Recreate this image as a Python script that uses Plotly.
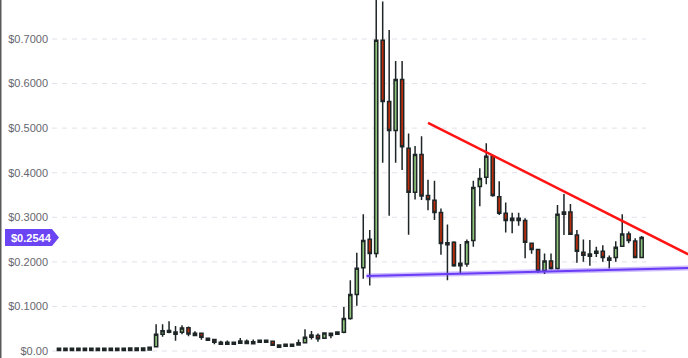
import plotly.graph_objects as go

# ---- data ----
idx = list(range(91))
opens = [0.0060, 0.0060, 0.0010, 0.0060, 0.0010, 0.0060, 0.0060, 0.0060, 0.0060, 0.0010, 0.0010, 0.0012, 0.0012, 0.0012, 0.0020,
         0.0096, 0.0375, 0.0460, 0.0375, 0.0420, 0.0520, 0.0350, 0.0397, 0.0284, 0.0260, 0.0150, 0.0195, 0.0150, 0.0172, 0.0220,
         0.0165, 0.0195, 0.0240, 0.0217, 0.0135, 0.0105, 0.0105, 0.0135, 0.0187, 0.0310, 0.0350, 0.0284, 0.0400, 0.0375, 0.0420,
         0.0730, 0.1270, 0.1870, 0.2506, 0.2190, 0.6970, 0.5600, 0.4950, 0.6090, 0.4550, 0.3560, 0.4410, 0.3490, 0.3380, 0.3110,
         0.2385, 0.2440, 0.1910, 0.1950, 0.2480, 0.3690, 0.3900, 0.4370, 0.3460, 0.3090, 0.2930, 0.2980, 0.2930, 0.2416, 0.2280,
         0.1800, 0.2020, 0.1850, 0.3070, 0.3120, 0.2600, 0.2215, 0.2125, 0.2192, 0.2237, 0.2087, 0.2100, 0.2350, 0.2625, 0.2468,
         0.2100]
highs = [0.0070, 0.0070, 0.0070, 0.0070, 0.0070, 0.0070, 0.0070, 0.0070, 0.0070, 0.0070, 0.0070, 0.0075, 0.0075, 0.0075, 0.0095,
         0.0600, 0.0600, 0.0670, 0.0560, 0.0580, 0.0550, 0.0445, 0.0410, 0.0290, 0.0270, 0.0230, 0.0235, 0.0200, 0.0290, 0.0260,
         0.0260, 0.0250, 0.0250, 0.0220, 0.0140, 0.0155, 0.0155, 0.0260, 0.0490, 0.0450, 0.0390, 0.0410, 0.0410, 0.0440, 0.0990,
         0.1590, 0.2206, 0.3070, 0.2715, 0.7900, 0.7840, 0.7200, 0.6507, 0.6507, 0.4880, 0.4600, 0.4820, 0.3840, 0.3820, 0.3200,
         0.2840, 0.2460, 0.2400, 0.2500, 0.3820, 0.4100, 0.4660, 0.4400, 0.3810, 0.3330, 0.3100, 0.3100, 0.2980, 0.2435, 0.2280,
         0.2190, 0.2190, 0.3275, 0.3520, 0.3300, 0.2715, 0.2500, 0.2490, 0.2340, 0.2370, 0.2140, 0.2460, 0.3070, 0.2680, 0.2530,
         0.2580]
lows = [0.0005, 0.0005, 0.0005, 0.0005, 0.0005, 0.0005, 0.0005, 0.0005, 0.0005, 0.0005, 0.0005, 0.0008, 0.0008, 0.0008, 0.0015,
        0.0080, 0.0320, 0.0400, 0.0230, 0.0375, 0.0330, 0.0340, 0.0254, 0.0230, 0.0150, 0.0150, 0.0145, 0.0150, 0.0170, 0.0160,
        0.0160, 0.0190, 0.0190, 0.0125, 0.0080, 0.0100, 0.0100, 0.0130, 0.0180, 0.0260, 0.0210, 0.0280, 0.0285, 0.0370, 0.0400,
        0.0700, 0.1016, 0.1620, 0.1470, 0.2100, 0.4225, 0.3036, 0.4225, 0.4060, 0.2610, 0.3400, 0.3390, 0.3160, 0.2940, 0.2160,
        0.1590, 0.1890, 0.1740, 0.1890, 0.2340, 0.3250, 0.3740, 0.3460, 0.3050, 0.2660, 0.2640, 0.2810, 0.2080, 0.2180, 0.1750,
        0.1730, 0.1830, 0.1830, 0.2600, 0.2600, 0.1980, 0.2000, 0.1910, 0.2110, 0.2000, 0.1850, 0.2000, 0.2350, 0.2416, 0.2100,
        0.2100]
closes = [0.0010, 0.0010, 0.0060, 0.0010, 0.0060, 0.0010, 0.0010, 0.0010, 0.0010, 0.0060, 0.0060, 0.0065, 0.0065, 0.0065, 0.0085,
          0.0375, 0.0455, 0.0420, 0.0426, 0.0516, 0.0380, 0.0400, 0.0310, 0.0240, 0.0195, 0.0195, 0.0150, 0.0195, 0.0224, 0.0170,
          0.0210, 0.0240, 0.0195, 0.0128, 0.0083, 0.0150, 0.0150, 0.0187, 0.0310, 0.0360, 0.0276, 0.0404, 0.0350, 0.0426, 0.0730,
          0.1270, 0.1855, 0.2480, 0.2190, 0.6970, 0.5600, 0.4950, 0.6090, 0.4580, 0.3560, 0.4410, 0.3480, 0.3400, 0.3110, 0.2410,
          0.2430, 0.1910, 0.1970, 0.2450, 0.3670, 0.3870, 0.4370, 0.3490, 0.3090, 0.2930, 0.2980, 0.2930, 0.2440, 0.2280, 0.1800,
          0.2020, 0.1850, 0.3070, 0.3120, 0.2620, 0.2237, 0.2147, 0.2176, 0.2237, 0.2100, 0.2035, 0.2327, 0.2625, 0.2480, 0.2100,
          0.2544]

resistance_x = [57.0, 97.2]
resistance_y = [0.512, 0.217]
support_x = [47.5, 97.2]
support_y = [0.168, 0.186]

tick_vals = [0.0, 0.1, 0.2, 0.3, 0.4, 0.5, 0.6, 0.7]
tick_text = ["$0.00", "$0.1000", "$0.2000", "$0.3000", "$0.4000", "$0.5000", "$0.6000", "$0.7000"]
last_price = 0.2544
last_label = "$0.2544"

# ---- figure ----
fig = go.Figure()
fig.add_trace(go.Candlestick(
    x=idx, open=opens, high=highs, low=lows, close=closes,
    increasing=dict(fillcolor="#8fc57b", line=dict(color="#1e2526", width=1.5)),
    decreasing=dict(fillcolor="#bd2d0c", line=dict(color="#1e2526", width=1.5)),
    whiskerwidth=0, showlegend=False, hoverinfo="skip",
))
fig.add_trace(go.Scatter(x=resistance_x, y=resistance_y, mode="lines",
                         line=dict(color="#ff1414", width=2.5), showlegend=False, hoverinfo="skip"))
fig.add_trace(go.Scatter(x=support_x, y=support_y, mode="lines",
                         line=dict(color="rgba(112,64,245,0.35)", width=5), showlegend=False, hoverinfo="skip"))
fig.add_trace(go.Scatter(x=support_x, y=support_y, mode="lines",
                         line=dict(color="#6a3cf5", width=2), showlegend=False, hoverinfo="skip"))

L, R = 52, 688
grid_end = (646 - L) / (R - L)
shapes = []
for v in tick_vals:
    shapes.append(dict(type="line", xref="paper", yref="y", x0=0, x1=grid_end, y0=v, y1=v,
                       line=dict(color="#e1e1ea", width=1, dash="5px,5px"), layer="below"))
# left frame line
shapes.append(dict(type="line", xref="paper", yref="paper", x0=-L / (R - L) + 0.5 / (R - L), x1=-L / (R - L) + 0.5 / (R - L),
                   y0=0, y1=1, line=dict(color="#5a5a5a", width=2)))
# price badge
shapes.append(dict(type="path", xref="paper", yref="y", xsizemode="pixel", ysizemode="pixel",
                   xanchor=0, yanchor=last_price,
                   path="M-47,8.5 L0,8.5 L7,0 L0,-8.5 L-47,-8.5 Z",
                   fillcolor="#6b45f3", line=dict(width=0)))

fig.update_layout(
    width=688, height=358,
    margin=dict(l=L, r=0, t=0, b=0),
    paper_bgcolor="white", plot_bgcolor="white",
    shapes=shapes,
    xaxis=dict(range=[-1.081, 97.16], visible=False, rangeslider=dict(visible=False), fixedrange=True),
    yaxis=dict(range=[-7 / 445.7, 351 / 445.7], tickvals=tick_vals, ticktext=tick_text,
               showgrid=False, zeroline=False, showline=False, ticks="",
               tickfont=dict(family="Arial, Liberation Sans", size=11, color="#66666e"),
               ticklabelstandoff=3, fixedrange=True),
    annotations=[dict(x=0, xref="paper", y=last_price, yref="y", text="<b>" + last_label + "</b>", showarrow=False,
                      xanchor="center", xshift=-20.5, font=dict(family="Arial, Liberation Sans", size=11, color="white"))],
    font=dict(family="Arial, Liberation Sans"),
)

fig.write_html("out.html")
